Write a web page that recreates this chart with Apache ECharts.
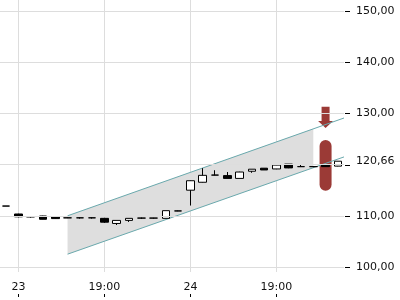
<!DOCTYPE html>
<html>
<head>
<meta charset="utf-8">
<script src="https://cdn.jsdelivr.net/npm/echarts@6/dist/echarts.min.js"></script>
<style>
html,body{margin:0;padding:0;background:#fff;}
#chart{width:400px;height:300px;}
</style>
</head>
<body>
<div id="chart"></div>
<script>
// ---- data ----
const categories = ['22 21:00','23 00:00','23 03:00','23 06:00','23 09:00','23 12:00','23 15:00','23 17:00',
  '23 19:00','23 21:00','23 22:00','23 23:00','23 23:30','23 23:45',
  '24 00:00','24 00:15','24 03:00','24 06:00','24 09:00','24 12:00','24 15:00','24 17:00',
  '24 19:00','24 21:00','24 22:00','24 23:00','24 23:30','24 23:45'];
// [open, close, low, high]
const ohlc = [
  [111.9, 111.9, 111.9, 111.9],
  [110.35, 109.8, 109.7, 110.4],
  [109.8, 109.8, 109.65, 109.95],
  [109.96, 109.32, 109.3, 110.0],
  [109.77, 109.45, 109.4, 109.8],
  [109.6, 109.6, 109.55, 109.65],
  [109.6, 109.6, 109.45, 109.7],
  [109.6, 109.6, 109.45, 109.7],
  [109.5, 108.75, 108.6, 109.6],
  [108.5, 109.1, 108.2, 109.1],
  [109.1, 109.5, 108.8, 109.5],
  [109.55, 109.55, 109.4, 109.65],
  [109.55, 109.55, 109.45, 109.6],
  [109.5, 111.0, 109.5, 111.0],
  [110.95, 110.95, 110.9, 111.0],
  [115.0, 116.85, 112.0, 116.9],
  [116.55, 117.9, 116.5, 119.3],
  [117.95, 117.95, 117.9, 118.9],
  [117.85, 117.3, 117.3, 118.55],
  [117.3, 118.55, 117.3, 118.6],
  [118.7, 119.1, 118.4, 119.1],
  [119.3, 118.95, 118.95, 119.3],
  [119.15, 119.9, 119.1, 119.95],
  [120.1, 119.35, 119.3, 120.1],
  [119.6, 119.6, 119.55, 119.95],
  [119.6, 119.6, 119.5, 119.7],
  [119.9, 119.6, 119.55, 119.9],
  [119.7, 120.66, 119.65, 120.66]
];
const xTickIndex = [1, 8, 15, 22];
const xTickText = ['23', '19:00', '24', '19:00'];
const yGridValues = [100, 110, 120, 130, 140, 150];
const yRange = [99.02, 152.15];
const lastPrice = 120.66;
// channel lines: [x index, value] endpoints
const channelUpper = [[5, 110.0], [27.5, 129.1]];
const channelLower = [[5, 102.5], [27.5, 121.5]];
const bandRange = [5, 25];
// signal marker: [index, arrowTop, arrowHeadBase, arrowTip, pillTop, pillBottom]
const signal = [[26, 131.3, 128.5, 127.15, 124.8, 114.9]];

// ---- chart ----
const chart = echarts.init(document.getElementById('chart'), null, {renderer: 'canvas'});
const FONT = 'DejaVu Sans';
const fmt = (v) => v.toFixed(2).replace('.', ',');
function lineAt(line, x) {
  const [p0, p1] = line;
  return p0[1] + (p1[1] - p0[1]) * (x - p0[0]) / (p1[0] - p0[0]);
}
const isTick = (i) => xTickIndex.indexOf(i) >= 0;
const X_MAX = 27.5;
const option = {
  animation: false,
  backgroundColor: '#fff',
  grid: {left: 0, right: 56, top: 0, bottom: 28, containLabel: false},
  xAxis: [
    {
      type: 'category', data: categories, boundaryGap: true, gridIndex: 0,
      axisLine: {show: false}, axisTick: {show: false},
      axisLabel: {
        interval: isTick,
        formatter: (v, i) => xTickText[xTickIndex.indexOf(i)] || '',
        margin: 10, color: '#111', fontFamily: FONT, fontSize: 11
      },
      splitLine: {show: true, interval: isTick, alignWithLabel: true,
        lineStyle: {color: '#dddddd', width: 1}}
    },
    {
      type: 'value', min: -0.5, max: X_MAX, gridIndex: 0, show: false,
      axisLine: {show: false}, axisTick: {show: false}, axisLabel: {show: false}, splitLine: {show: false}
    },
    {
      type: 'category', data: categories, boundaryGap: true, gridIndex: 0, position: 'bottom', offset: 22,
      axisLine: {show: false},
      axisTick: {show: true, interval: isTick, alignWithLabel: true, length: 3, lineStyle: {color: '#000'}},
      axisLabel: {show: false}, splitLine: {show: false}
    }
  ],
  yAxis: [
    {
      type: 'value', position: 'right', min: yRange[0], max: yRange[1], scale: true, splitNumber: 5,
      axisLine: {show: false},
      axisTick: {show: false},
      axisLabel: {show: true, margin: 12, color: '#111', fontFamily: FONT, fontSize: 11,
        showMinLabel: false, showMaxLabel: false,
        formatter: (v) => (Math.abs(v - lastPrice) < 5 ? '' : fmt(v))},
      splitLine: {show: false}
    }
  ],
  series: [
    {
      type: 'custom', xAxisIndex: 1, yAxisIndex: 0, z: 1, silent: true,
      data: [bandRange],
      renderItem: function (params, api) {
        const x0 = api.value(0), x1 = api.value(1);
        const pts = [
          api.coord([x0, lineAt(channelUpper, x0)]),
          api.coord([x1, lineAt(channelUpper, x1)]),
          api.coord([x1, lineAt(channelLower, x1)]),
          api.coord([x0, lineAt(channelLower, x0)])
        ];
        return {type: 'polygon', shape: {points: pts}, style: {fill: '#dedede'}};
      },
      markLine: {
        silent: true, symbol: 'none', animation: false,
        label: {show: false},
        lineStyle: {color: '#dddddd', width: 1, type: 'solid'},
        emphasis: {disabled: true},
        data: yGridValues.map(v => ({yAxis: v}))
      }
    },
    {
      // y-axis tick marks, outside the right edge of the plot
      type: 'custom', xAxisIndex: 1, yAxisIndex: 0, z: 5, silent: true, clip: false,
      data: yGridValues.map(v => [X_MAX, v]),
      renderItem: function (params, api) {
        const p = api.coord([api.value(0), api.value(1)]);
        const y = Math.round(p[1]) + 0.5;
        return {type: 'line', shape: {x1: p[0] + 1, y1: y, x2: p[0] + 6, y2: y},
          style: {stroke: '#000', lineWidth: 1}};
      }
    },
    {
      type: 'custom', xAxisIndex: 1, yAxisIndex: 0, z: 2, silent: true,
      data: signal,
      renderItem: function (params, api) {
        const top = api.coord([api.value(0), api.value(1)]);
        const base = api.coord([api.value(0), api.value(2)]);
        const tip = api.coord([api.value(0), api.value(3)]);
        const pTop = api.coord([api.value(0), api.value(4)]);
        const pBot = api.coord([api.value(0), api.value(5)]);
        const cx = top[0];
        const col = '#9b3a36';
        return {
          type: 'group',
          children: [
            {type: 'polygon', shape: {points: [
              [cx - 4, top[1]], [cx + 4, top[1]], [cx + 4, base[1]], [cx + 7.5, base[1]],
              [cx, tip[1]], [cx - 7.5, base[1]], [cx - 4, base[1]]
            ]}, style: {fill: col}},
            {type: 'rect', shape: {x: cx - 6, y: pTop[1], width: 12, height: pBot[1] - pTop[1], r: 6},
              style: {fill: col}}
          ]
        };
      }
    },
    {
      type: 'line', xAxisIndex: 1, yAxisIndex: 0, z: 3, data: channelUpper, symbol: 'none',
      lineStyle: {color: '#6aa9ad', width: 1}, silent: true
    },
    {
      type: 'line', xAxisIndex: 1, yAxisIndex: 0, z: 3, data: channelLower, symbol: 'none',
      lineStyle: {color: '#6aa9ad', width: 1}, silent: true,
      markLine: {
        silent: true, symbol: 'none', animation: false,
        lineStyle: {color: 'rgba(0,0,0,0)', width: 0},
        label: {show: true, position: 'end', distance: 12, color: '#111', fontFamily: FONT, fontSize: 11,
          formatter: () => fmt(lastPrice)},
        emphasis: {disabled: true},
        data: [{yAxis: lastPrice}]
      }
    },
    {
      type: 'candlestick', xAxisIndex: 0, yAxisIndex: 0, z: 4, data: ohlc, barWidth: 8,
      itemStyle: {
        color: '#ffffff', color0: '#000000',
        borderColor: '#000000', borderColor0: '#000000', borderColorDoji: '#000000', borderWidth: 1
      }
    }
  ]
};
chart.setOption(option);
</script>
</body>
</html>
